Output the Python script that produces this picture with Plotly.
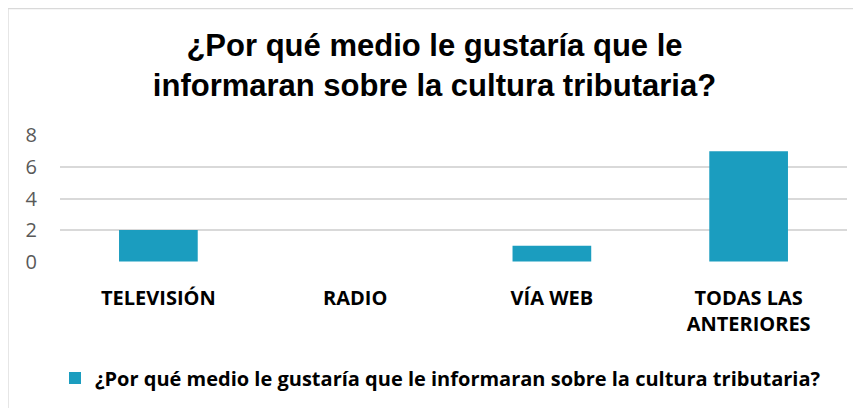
import plotly.graph_objects as go

categories = ["TELEVISIÓN", "RADIO", "VÍA WEB", "TODAS LAS<br>ANTERIORES"]
values = [2, 0, 1, 7]
series_name = "¿Por qué medio le gustaría que le informaran sobre la cultura tributaria?"
title_text = "¿Por qué medio le gustaría que le<br>informaran sobre la cultura tributaria?"
y_ticks = [0, 2, 4, 6, 8]

# page has an 8px body margin; work in figure coordinates (screen - 8)
W, H = 853, 400
L, R, T, B = 52, 14, 127, 146
pw, ph = W - L - R, H - T - B

fig = go.Figure()
fig.add_trace(go.Bar(
    x=categories, y=values, name=series_name,
    marker=dict(color="#1B9DBF", line=dict(width=0)),
    width=0.4, showlegend=True,
))

def px_x(x):
    return (x - L) / pw

def px_y(y):
    return (H - B - y) / ph

fig.update_layout(
    width=W, height=H,
    margin=dict(l=L, r=R, t=T, b=B, autoexpand=False),
    paper_bgcolor="white", plot_bgcolor="white",
    title=dict(text=title_text, x=0.5, xanchor="center", y=1 - 48 / H, yanchor="middle",
               yref="container",
               font=dict(family="Liberation Sans, Arial", size=31, color="#000000", weight="bold")),
    xaxis=dict(showgrid=False, showline=False, ticks="", automargin=False, ticklabelstandoff=22,
               tickfont=dict(family="Open Sans, Calibri", size=20, color="#000000", weight="bold")),
    yaxis=dict(range=[-0.03, 8.03], tickvals=y_ticks, showgrid=True, gridcolor="#D9D9D9", gridwidth=1.5,
               zeroline=False, showline=False, ticks="", automargin=False, ticklabelstandoff=22,
               tickfont=dict(family="Open Sans, Calibri", size=20, color="#595959")),
    legend=dict(orientation="h", x=px_x(47), xanchor="left", y=px_y(370), yanchor="middle",
                font=dict(family="Open Sans, Calibri", size=20, color="#000000", weight="bold"),
                itemwidth=30, bgcolor="rgba(0,0,0,0)"),
    shapes=[dict(type="rect", xref="paper", yref="paper",
                 x0=px_x(0), x1=px_x(870), y0=px_y(420), y1=px_y(0.5),
                 line=dict(color="#D9D9D9", width=1.3), fillcolor="rgba(0,0,0,0)")],
)

fig.write_html("out.html")
